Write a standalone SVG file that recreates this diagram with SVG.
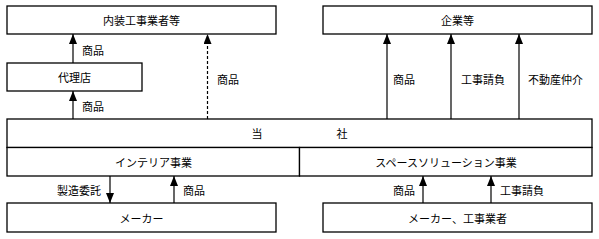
<svg xmlns="http://www.w3.org/2000/svg" width="599" height="239" viewBox="0 0 599 239">
<style>
.box{fill:#fff;stroke:#000;stroke-width:1.3}
.ln{fill:none;stroke:#000;stroke-width:1.2}
.dash{stroke-dasharray:3 2}
text{font-family:"Noto Sans CJK JP","Noto Sans CJK SC",sans-serif;font-size:11px;fill:#000;dominant-baseline:central}
.c{text-anchor:middle}
.e{text-anchor:end}
</style>
<defs>
<marker id="ah" viewBox="0 0 10 8" refX="10" refY="4" markerWidth="10" markerHeight="8" markerUnits="userSpaceOnUse" orient="auto">
<path d="M0,0 L10,4 L0,8 z" fill="#000"/>
</marker>
</defs>
<g id="connectors">
<line class="ln" x1="73" y1="63" x2="73" y2="34" marker-end="url(#ah)"/>
<line class="ln" x1="73" y1="119" x2="73" y2="91" marker-end="url(#ah)"/>
<line class="ln dash" x1="207.5" y1="119" x2="207.5" y2="34" marker-end="url(#ah)"/>
<line class="ln" x1="387" y1="119" x2="387" y2="34" marker-end="url(#ah)"/>
<line class="ln" x1="451" y1="119" x2="451" y2="34" marker-end="url(#ah)"/>
<line class="ln" x1="519" y1="119" x2="519" y2="34" marker-end="url(#ah)"/>
<line class="ln" x1="110" y1="176" x2="110" y2="203" marker-end="url(#ah)"/>
<line class="ln" x1="174" y1="203" x2="174" y2="176" marker-end="url(#ah)"/>
<line class="ln" x1="423" y1="203" x2="423" y2="176" marker-end="url(#ah)"/>
<line class="ln" x1="491" y1="203" x2="491" y2="176" marker-end="url(#ah)"/>
<text x="82" y="50">商品</text>
<text x="82" y="106">商品</text>
<text x="217" y="79">商品</text>
<text x="393" y="79">商品</text>
<text x="461" y="79">工事請負</text>
<text x="528" y="79">不動産仲介</text>
<text class="e" x="101" y="190">製造委託</text>
<text x="183" y="190">商品</text>
<text class="e" x="415" y="190">商品</text>
<text x="500" y="190">工事請負</text>
</g>
<g id="naiso">
<rect class="box" x="7" y="6" width="269" height="28"/>
<text class="c" x="141.5" y="20">内装工事業者等</text>
</g>
<g id="kigyo">
<rect class="box" x="323" y="6" width="269" height="28"/>
<text class="c" x="457.5" y="20">企業等</text>
</g>
<g id="dairiten">
<rect class="box" x="7" y="63" width="135" height="28"/>
<text class="c" x="74.5" y="77">代理店</text>
</g>
<g id="tosha">
<rect class="box" x="7" y="119" width="585" height="28.5"/>
<text class="c" x="257" y="133">当</text>
<text class="c" x="342" y="133">社</text>
</g>
<g id="interior">
<rect class="box" x="7" y="147.5" width="292.5" height="28.5"/>
<text class="c" x="153.5" y="162">インテリア事業</text>
</g>
<g id="space">
<rect class="box" x="299.5" y="147.5" width="292.5" height="28.5"/>
<text class="c" x="446" y="162">スペースソリューション事業</text>
</g>
<g id="maker">
<rect class="box" x="7" y="203" width="269" height="29"/>
<text class="c" x="141.5" y="218">メーカー</text>
</g>
<g id="maker2">
<rect class="box" x="323" y="203" width="269" height="29"/>
<text class="c" x="457.5" y="218">メーカー、工事業者</text>
</g>
</svg>
